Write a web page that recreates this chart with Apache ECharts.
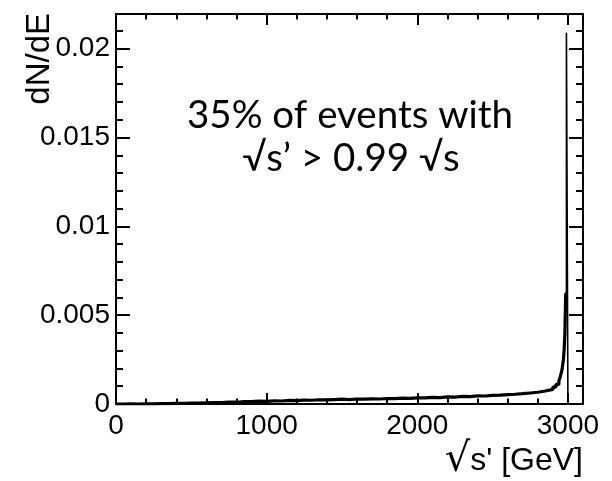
<!DOCTYPE html>
<html>
<head>
<meta charset="utf-8">
<script src="https://cdn.jsdelivr.net/npm/echarts@6/dist/echarts.min.js"></script>
<style>
  html, body { margin: 0; padding: 0; background: #fff; }
  #chart { width: 612px; height: 481px; }
</style>
</head>
<body>
<div id="chart"></div>
<script>
// lower bin edges [GeV] and dN/dE per bin
var binLow = [
  0, 50, 100, 150, 200, 250, 300, 350, 400, 450,
  500, 550, 600, 650, 700, 750, 800, 850, 900, 950,
  1000, 1050, 1100, 1150, 1200, 1250, 1300, 1350, 1400, 1450,
  1500, 1550, 1600, 1650, 1700, 1750, 1800, 1850, 1900, 1950,
  2000, 2050, 2100, 2150, 2200, 2250, 2300, 2350, 2400, 2450,
  2500, 2550, 2600, 2650, 2700, 2750, 2800, 2850,
  2900, 2920, 2940, 2950, 2960, 2970, 2975, 2980, 2985, 2990,
  3000
];
var dNdE = [
  0.00000, 0.00001, 0.00000, 0.00001, 0.00001, 0.00002, 0.00002, 0.00003, 0.00004, 0.00005,
  0.00005, 0.00007, 0.00008, 0.00008, 0.00011, 0.00010, 0.00013, 0.00014, 0.00016, 0.00015,
  0.00018, 0.00017, 0.00020, 0.00019, 0.00022, 0.00021, 0.00024, 0.00023, 0.00025, 0.00027,
  0.00025, 0.00028, 0.00027, 0.00029, 0.00028, 0.00031, 0.00030, 0.00033, 0.00032, 0.00035,
  0.00034, 0.00037, 0.00036, 0.00040, 0.00039, 0.00043, 0.00042, 0.00046, 0.00045, 0.00049,
  0.00050, 0.00053, 0.00055, 0.00058, 0.00062, 0.00066, 0.00073, 0.00082,
  0.00095, 0.00110, 0.00130, 0.00155, 0.00190, 0.00250, 0.00310, 0.00400, 0.00620, 0.02090,
  0
];
var xMax = 3100;
var yMax = 0.02195;
var xMajor = 1000, xMinor = 200;
var yMajor = 0.005, yMinor = 0.001;
var noteLines = ['35% of events with', '\u221As\u2019 > 0.99 \u221As'];

var chart = echarts.init(document.getElementById('chart'));

// the narrow peak bin is drawn with a thinner pen than the noisy continuum
var peak = dNdE.length - 2;
var bodyData = [], peakData = [];
for (var i = 0; i < peak; i++) bodyData.push([binLow[i], dNdE[i]]);
bodyData.push([binLow[peak], dNdE[peak - 1]]);
peakData.push([binLow[peak], dNdE[peak - 1]]);
for (var j = peak; j < binLow.length; j++) peakData.push([binLow[j], dNdE[j]]);
peakData.push([xMax, 0]);

var labelFont = { fontFamily: 'Liberation Sans', fontSize: 28, color: '#000' };
function xAxisDef(pos, interval, len, labels, line) {
  return {
    type: 'value', position: pos, min: 0, max: xMax, interval: interval,
    axisLine: { show: line, onZero: false, lineStyle: { color: '#000', width: 2 } },
    axisTick: { inside: true, length: len, lineStyle: { color: '#000', width: 2 } },
    axisLabel: labels ? Object.assign({ margin: 8, showMaxLabel: false,
      formatter: function (v) { return String(v); } }, labelFont) : { show: false },
    splitLine: { show: false }
  };
}
function yAxisDef(pos, interval, len, labels, line) {
  return {
    type: 'value', position: pos, min: 0, max: yMax, interval: interval,
    axisLine: { show: line, onZero: false, lineStyle: { color: '#000', width: 2 } },
    axisTick: { inside: true, length: len, lineStyle: { color: '#000', width: 2 } },
    axisLabel: labels ? Object.assign({ margin: 6, showMaxLabel: false,
      formatter: function (v) { return v === 0 ? '0' : String(+v.toFixed(4)); } }, labelFont) : { show: false },
    splitLine: { show: false }
  };
}

chart.setOption({
  animation: false,
  backgroundColor: '#fff',
  grid: { left: 116, top: 14, width: 467, height: 390, show: false },
  xAxis: [
    xAxisDef('bottom', xMajor, 11, true, true),
    xAxisDef('bottom', xMinor, 5.5, false, false),
    xAxisDef('top', xMajor, 11, false, true),
    xAxisDef('top', xMinor, 5.5, false, false)
  ],
  yAxis: [
    yAxisDef('left', yMajor, 14, true, true),
    yAxisDef('left', yMinor, 7, false, false),
    yAxisDef('right', yMajor, 14, false, true),
    yAxisDef('right', yMinor, 7, false, false)
  ],
  series: [{
    type: 'line',
    step: 'end',
    symbol: 'none',
    lineStyle: { color: '#000', width: 3.2 },
    data: bodyData
  }, {
    type: 'line',
    step: 'end',
    symbol: 'none',
    lineStyle: { color: '#000', width: 1.6 },
    data: peakData
  }],
  graphic: [
    {
      type: 'text', x: 40, y: 13, rotation: Math.PI / 2,
      style: { text: 'dN/dE', fontFamily: 'Liberation Sans', fontSize: 33,
        fill: '#000', align: 'right', verticalAlign: 'middle' }
    },
    {
      type: 'text', x: 583, y: 461,
      style: {
        text: '{r|\u221A}{t|s\' [GeV]}', fill: '#000', align: 'right', verticalAlign: 'middle',
        rich: {
          r: { fontFamily: 'DejaVu Sans', fontSize: 40, fill: '#000' },
          t: { fontFamily: 'Liberation Sans', fontSize: 32, fill: '#000' }
        }
      }
    },
    {
      type: 'text', x: 350, y: 116,
      style: { text: noteLines[0], fontFamily: 'Lato', fontSize: 38.5,
        fill: '#000', align: 'center', verticalAlign: 'middle' }
    },
    {
      type: 'text', x: 351, y: 159,
      style: { text: noteLines[1], fontFamily: 'Lato', fontSize: 38.5,
        fill: '#000', align: 'center', verticalAlign: 'middle' }
    }
  ]
});
</script>
</body>
</html>
